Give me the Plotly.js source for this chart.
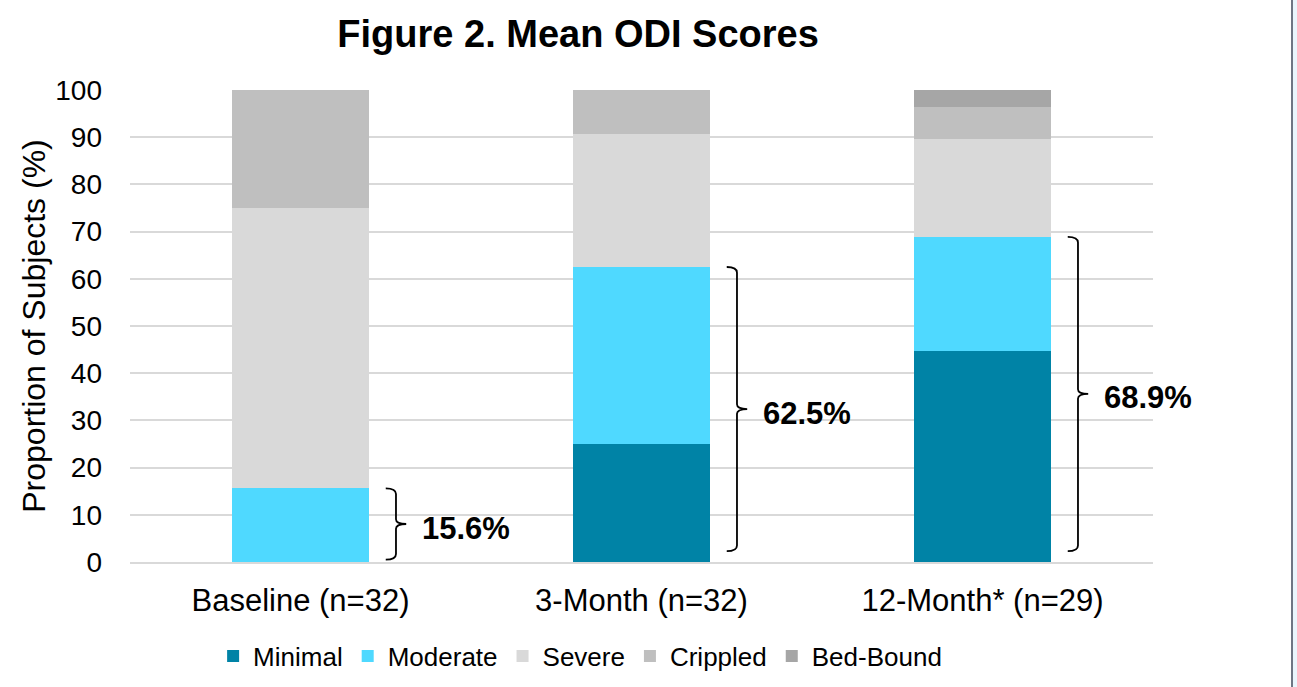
<!DOCTYPE html>
<html>
<head>
<meta charset="utf-8">
<script src="https://cdn.plot.ly/plotly-3.0.1.min.js"></script>
<style>
  html, body { margin: 0; padding: 0; background: #ffffff; }
  #chart { width: 1297px; height: 687px; }
  #edge { position: absolute; left: 1291px; top: 0; width: 2px; height: 687px; background: #6e7684; }
  #edge2 { position: absolute; left: 1293px; top: 0; width: 4px; height: 687px; background: #eaf6fd; }
</style>
</head>
<body>
<div id="chart"></div>
<div id="edge"></div>
<div id="edge2"></div>
<script>
const categories = ['Baseline (n=32)', '3-Month (n=32)', '12-Month* (n=29)'];
const minimal  = [0, 25.0, 44.8];
const moderate = [15.6, 37.5, 24.1];
const severe   = [59.4, 28.1, 20.7];
const crippled = [25.0, 9.4, 6.9];
const bedBound = [0, 0, 3.4];
const seriesNames = ['Minimal', 'Moderate', 'Severe', 'Crippled', 'Bed-Bound'];
const seriesColors = ['#0083a6', '#4fd9ff', '#d9d9d9', '#bfbfbf', '#a6a6a6'];
const seriesValues = [minimal, moderate, severe, crippled, bedBound];

const FONT = '"Liberation Sans", Arial, sans-serif';
const xIdx = categories.map((c, i) => i);

const traces = seriesValues.map((vals, k) => ({
  type: 'bar',
  name: seriesNames[k],
  x: xIdx,
  y: vals,
  marker: { color: seriesColors[k], line: { width: 0 } },
  hoverinfo: 'x+y+name'
}));

// brackets for Minimal + Moderate
const improved = categories.map((c, i) => +(minimal[i] + moderate[i]).toFixed(1));
const shapes = [];
const annotations = [];
const hookL = 0.25, vert = 0.28, tickEnd = 0.31, labelX = 0.35;
improved.forEach((top, i) => {
  const bot = i === 0 ? 0.5 : 2.3;
  const mid = (top + bot) / 2;
  const d = 1.2, e = 1.0;
  const xl = i + hookL, xv = i + vert, xt = i + tickEnd;
  const path = `M${xl},${top} Q${xv},${top} ${xv},${top - d} L${xv},${mid + e} Q${xv},${mid} ${xt},${mid} ` +
               `M${xt},${mid} Q${xv},${mid} ${xv},${mid - e} L${xv},${bot + d} Q${xv},${bot} ${xl},${bot}`;
  shapes.push({ type: 'path', xref: 'x', yref: 'y', path: path, line: { color: '#000000', width: 1.8 } });
  annotations.push({
    x: i + labelX, y: mid, xref: 'x', yref: 'y', xanchor: 'left', yanchor: 'middle', yshift: -4,
    text: '<b>' + top.toFixed(1) + '%</b>', showarrow: false,
    font: { family: FONT, size: 31, color: '#000000' }
  });
});

const layout = {
  width: 1297, height: 687,
  margin: { l: 130, r: 144, t: 90, b: 125 },
  paper_bgcolor: '#ffffff', plot_bgcolor: '#ffffff',
  barmode: 'stack',
  bargap: 0.6,
  font: { family: FONT, color: '#000000' },
  title: {
    text: '<b>Figure 2. Mean ODI Scores</b>',
    font: { family: FONT, size: 38, color: '#000000' },
    x: 0.438, xref: 'paper', xanchor: 'center',
    y: 1 - 34 / 687, yref: 'container', yanchor: 'middle'
  },
  xaxis: {
    range: [-0.5, 2.5],
    tickvals: xIdx, ticktext: categories,
    ticks: '', showgrid: false, zeroline: false,
    showline: true, linecolor: '#d9d9d9', linewidth: 2,
    tickfont: { family: FONT, size: 31, color: '#000000' },
    ticklabelstandoff: 10,
    fixedrange: true
  },
  yaxis: {
    range: [0, 100], dtick: 10, tick0: 0,
    ticks: '', showgrid: true, gridcolor: '#d9d9d9', gridwidth: 2,
    zeroline: false, showline: false,
    tickfont: { family: FONT, size: 28, color: '#000000' },
    ticklabelstandoff: 27,
    title: { text: 'Proportion of Subjects (%)', font: { family: FONT, size: 32, color: '#000000' }, standoff: 0 },
    automargin: false,
    fixedrange: true
  },
  legend: {
    orientation: 'h', x: 0.44, xanchor: 'center',
    y: 1 - 656 / 687, yref: 'container', yanchor: 'middle',
    font: { family: FONT, size: 26, color: '#000000' },
    traceorder: 'normal', itemwidth: 30
  },
  shapes: shapes,
  annotations: annotations,
  showlegend: true
};

Plotly.newPlot('chart', traces, layout, { displayModeBar: false, staticPlot: true });
</script>
</body>
</html>
